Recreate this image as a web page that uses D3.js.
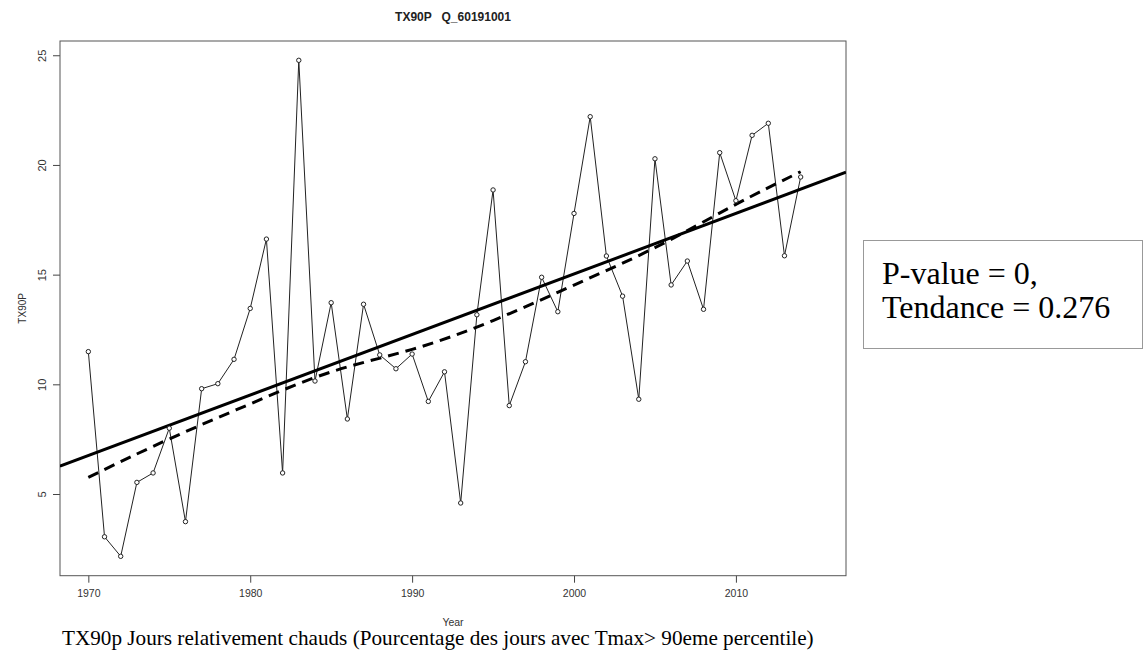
<!DOCTYPE html>
<html><head><meta charset="utf-8">
<script src="https://cdn.jsdelivr.net/npm/d3@7"></script>
<style>body{margin:0;background:#fff}svg{display:block}</style>
</head><body>
<svg id="c" width="1148" height="651"></svg>
<script>
const years = [1970,1971,1972,1973,1974,1975,1976,1977,1978,1979,1980,1981,1982,1983,1984,1985,1986,1987,1988,1989,1990,1991,1992,1993,1994,1995,1996,1997,1998,1999,2000,2001,2002,2003,2004,2005,2006,2007,2008,2009,2010,2011,2012,2013,2014];
const tx90p = [11.49,3.05,2.16,5.53,5.96,8.0,3.74,9.8,10.03,11.14,13.46,16.62,5.96,24.77,10.15,13.72,8.42,13.65,11.34,10.71,11.38,9.22,10.57,4.59,13.17,18.86,9.03,11.03,14.88,13.31,17.79,22.2,15.85,14.02,9.32,20.28,14.53,15.62,13.42,20.56,18.37,21.35,21.9,15.86,19.45];
const smoothYears = [1970,1975,1980,1985,1990,1995,2000,2005,2010,2014];
const smoothValues = [5.76,7.55,9.1,10.7,11.5,12.85,14.54,16.15,18.25,19.69];
const trendIntercept1970 = 6.75;
const trendSlope = 0.276;
const xTicks = [1970,1980,1990,2000,2010];
const yTicks = [5,10,15,20,25];
const title = "TX90P   Q_60191001";
const xLabel = "Year";
const yLabel = "TX90P";
const caption = "TX90p Jours relativement chauds (Pourcentage des jours avec Tmax> 90eme percentile)";
const statLines = ["P-value = 0,", "Tendance = 0.276"];

const L = 60, R = 846, T = 41, B = 575.7;
const svg = d3.select("#c");
const x = d3.scaleLinear().domain([1968.25, 2016.8]).range([L, R]);
const y = d3.scaleLinear().domain([1.276, 25.65]).range([B, T]);

svg.append("defs").append("clipPath").attr("id","clip")
  .append("rect").attr("x",L).attr("y",T).attr("width",R-L).attr("height",B-T);

// title
svg.append("text").attr("x",(L+R)/2).attr("y",20.5).attr("text-anchor","middle")
  .attr("font-family","Liberation Sans, Arial, sans-serif").attr("font-weight","bold")
  .attr("font-size",12).attr("fill","#222").style("white-space","pre").text(title);

// axes
const xa = svg.append("g").attr("transform",`translate(0,${B})`)
  .call(d3.axisBottom(x).tickValues(xTicks).tickFormat(d3.format("d")).tickSize(7).tickSizeOuter(0).tickPadding(7));
xa.select(".domain").remove();
xa.selectAll("line").attr("stroke","#444");
xa.selectAll("text").attr("font-family","Liberation Sans, Arial, sans-serif").attr("font-size",10.5).attr("fill","#333");

const ya = svg.append("g").attr("transform",`translate(${L},0)`)
  .call(d3.axisLeft(y).tickValues(yTicks).tickSize(7).tickSizeOuter(0));
ya.select(".domain").remove();
ya.selectAll("line").attr("stroke","#444");
ya.selectAll("text").attr("transform","rotate(-90)").attr("x",0).attr("y",-14).attr("dy",0)
  .attr("text-anchor","middle")
  .attr("font-family","Liberation Sans, Arial, sans-serif").attr("font-size",11).attr("fill","#333");

// frame
svg.append("rect").attr("x",L).attr("y",T).attr("width",R-L).attr("height",B-T)
  .attr("fill","none").attr("stroke","#555").attr("stroke-width",1);

// axis titles
svg.append("text").attr("x",(L+R)/2).attr("y",626).attr("text-anchor","middle")
  .attr("font-family","Liberation Sans, Arial, sans-serif").attr("font-size",10.5).attr("fill","#333").text(xLabel);
svg.append("text").attr("transform",`translate(26,${(T+B)/2}) rotate(-90)`).attr("text-anchor","middle")
  .attr("font-family","Liberation Sans, Arial, sans-serif").attr("font-size",10).attr("fill","#333").text(yLabel);

const plot = svg.append("g").attr("clip-path","url(#clip)");

// data line
const pts = years.map((yr,i)=>[yr,tx90p[i]]);
plot.append("path").attr("d", d3.line().x(d=>x(d[0])).y(d=>y(d[1]))(pts))
  .attr("fill","none").attr("stroke","#222").attr("stroke-width",1);

// trend line (full width)
const xd = x.domain();
const trendPts = xd.map(yr=>[yr, trendIntercept1970 + trendSlope*(yr-1970)]);
plot.append("path").attr("d", d3.line().x(d=>x(d[0])).y(d=>y(d[1]))(trendPts))
  .attr("fill","none").attr("stroke","#000").attr("stroke-width",3);

// smooth dashed line
const sm = smoothYears.map((yr,i)=>[yr,smoothValues[i]]);
plot.append("path").attr("d", d3.line().curve(d3.curveBasis).x(d=>x(d[0])).y(d=>y(d[1]))(sm))
  .attr("fill","none").attr("stroke","#000").attr("stroke-width",3).attr("stroke-dasharray","11,7");

// points
plot.selectAll("circle.p").data(pts).join("circle").attr("class","p")
  .attr("cx",d=>x(d[0])).attr("cy",d=>y(d[1])).attr("r",2.2)
  .attr("fill","#fff").attr("stroke","#222").attr("stroke-width",1);

// stats box
svg.append("rect").attr("x",863.5).attr("y",240.5).attr("width",279).attr("height",108)
  .attr("fill","#fff").attr("stroke","#999").attr("stroke-width",1);
statLines.forEach((s,i)=>{
  svg.append("text").attr("x",882).attr("y",284+i*34)
    .attr("font-family","Liberation Serif, Times New Roman, serif").attr("font-size",32).attr("fill","#000").text(s);
});

// caption
svg.append("text").attr("x",62).attr("y",645)
  .attr("font-family","Liberation Serif, Times New Roman, serif").attr("font-size",21.2).attr("fill","#000").text(caption);
</script>
</body></html>
